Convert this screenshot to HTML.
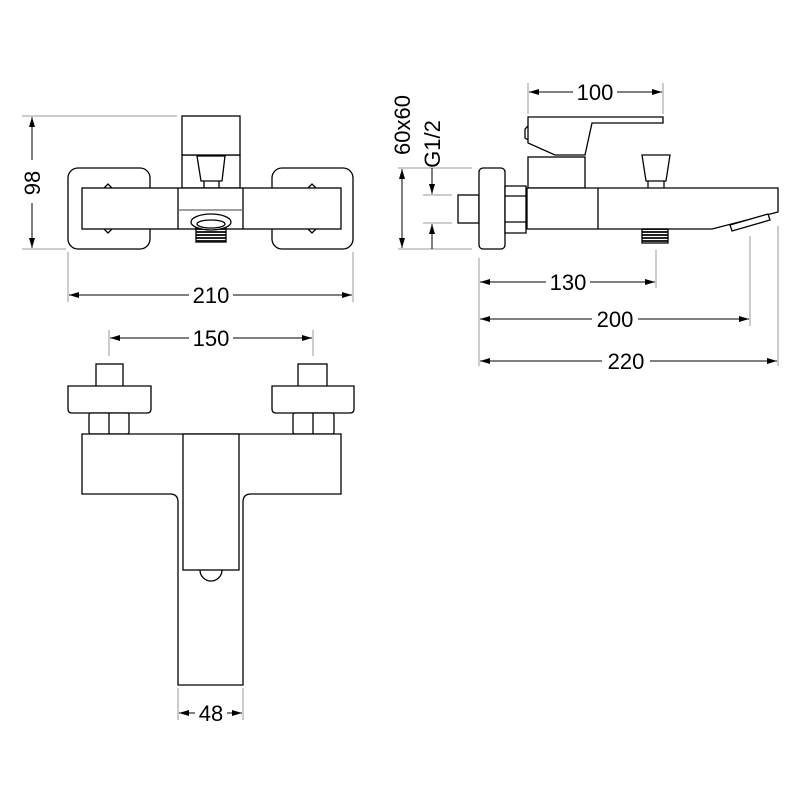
<!DOCTYPE html>
<html><head><style>html,body{margin:0;padding:0;background:#fff}svg{display:block}</style></head>
<body>
<svg width="800" height="800" viewBox="0 0 800 800" xmlns="http://www.w3.org/2000/svg">
<defs>
<marker id="a" viewBox="0 0 10 6" refX="10" refY="3" markerWidth="10" markerHeight="6" orient="auto-start-reverse" markerUnits="userSpaceOnUse"><path d="M0,0L10,3L0,6z" fill="#000"/></marker>
<pattern id="t" width="4" height="3" patternUnits="userSpaceOnUse"><rect width="4" height="3" fill="#fff"/><rect width="4" height="2" fill="#222"/></pattern>
</defs>
<g font-family="Liberation Sans, sans-serif" font-size="22" fill="#000">
<g stroke="#999" stroke-width="1" fill="none">
<line x1="22" y1="116" x2="177" y2="116"/><line x1="22" y1="249" x2="66" y2="249"/>
<line x1="68" y1="252" x2="68" y2="302"/><line x1="353" y1="252" x2="353" y2="302"/>
<line x1="528" y1="83" x2="528" y2="114"/><line x1="663" y1="83" x2="663" y2="114"/>
<line x1="398" y1="168" x2="472" y2="168"/><line x1="398" y1="249" x2="472" y2="249"/>
<line x1="423" y1="195" x2="452" y2="195"/><line x1="423" y1="223" x2="452" y2="223"/>
<line x1="479" y1="258" x2="479" y2="366"/><line x1="656" y1="250" x2="656" y2="288"/>
<line x1="750" y1="236" x2="750" y2="326"/><line x1="778" y1="226" x2="778" y2="366"/>
<line x1="109" y1="330" x2="109" y2="356"/><line x1="313" y1="330" x2="313" y2="356"/>
<line x1="178" y1="688" x2="178" y2="720"/><line x1="243" y1="688" x2="243" y2="720"/>
</g>
<g stroke="#000" stroke-width="1" fill="none">
<line x1="32" y1="117" x2="32" y2="160" marker-start="url(#a)"/><line x1="32" y1="203" x2="32" y2="248" marker-end="url(#a)"/>
<line x1="69" y1="295" x2="189" y2="295" marker-start="url(#a)"/><line x1="233" y1="295" x2="352" y2="295" marker-end="url(#a)"/>
<line x1="529" y1="92" x2="573" y2="92" marker-start="url(#a)"/><line x1="617" y1="92" x2="662" y2="92" marker-end="url(#a)"/>
<line x1="402" y1="169" x2="402" y2="248" marker-start="url(#a)" marker-end="url(#a)"/>
<line x1="432" y1="168" x2="432" y2="194" marker-end="url(#a)"/><line x1="432" y1="249" x2="432" y2="224" marker-end="url(#a)"/>
<line x1="480" y1="282" x2="546" y2="282" marker-start="url(#a)"/><line x1="590" y1="282" x2="655" y2="282" marker-end="url(#a)"/>
<line x1="480" y1="319" x2="592" y2="319" marker-start="url(#a)"/><line x1="638" y1="319" x2="749" y2="319" marker-end="url(#a)"/>
<line x1="480" y1="361" x2="602" y2="361" marker-start="url(#a)"/><line x1="650" y1="361" x2="777" y2="361" marker-end="url(#a)"/>
<line x1="110" y1="338" x2="189" y2="338" marker-start="url(#a)"/><line x1="233" y1="338" x2="312" y2="338" marker-end="url(#a)"/>
<line x1="179" y1="713" x2="195" y2="713" marker-start="url(#a)"/><line x1="227" y1="713" x2="242" y2="713" marker-end="url(#a)"/>
</g>
<text x="211" y="303" text-anchor="middle">210</text>
<text x="595" y="100" text-anchor="middle">100</text>
<text x="568" y="290" text-anchor="middle">130</text>
<text x="615" y="327" text-anchor="middle">200</text>
<text x="626" y="369" text-anchor="middle">220</text>
<text x="211" y="346" text-anchor="middle">150</text>
<text x="211" y="721" text-anchor="middle">48</text>
<text transform="translate(40,183) rotate(-90)" text-anchor="middle">98</text>
<text transform="translate(410,125) rotate(-90)" text-anchor="middle">60x60</text>
<text transform="translate(440,144) rotate(-90)" text-anchor="middle">G1/2</text>

<g stroke="#000" stroke-width="1.3" fill="#fff">
<rect x="68" y="168" width="82" height="81" rx="10"/>
<rect x="272" y="168" width="81" height="81" rx="10"/>
<rect x="182" y="155" width="58" height="33"/>
<rect x="182" y="116" width="58" height="39"/>
<path d="M197,156 L225,156 L222,181 L201,181 Z"/>
<line x1="204" y1="181" x2="204" y2="188"/><line x1="219" y1="181" x2="219" y2="188"/>
<rect x="82" y="188" width="259" height="41"/>
<line x1="178" y1="188" x2="178" y2="229"/><line x1="243" y1="188" x2="243" y2="229"/>
<line x1="178" y1="210" x2="243" y2="210" stroke="#666"/>
<rect x="196" y="228" width="30" height="14" fill="url(#t)"/>
<ellipse cx="211" cy="222" rx="20" ry="8"/>
<ellipse cx="211" cy="224" rx="14" ry="4"/>
<path d="M104,188 L108,184 L112,188 M104,229 L108,233 L112,229 M308,188 L312,184 L316,188 M308,229 L312,233 L316,229" fill="none"/>
</g>

<g stroke="#000" stroke-width="1.3" fill="#fff">
<rect x="458" y="195" width="21" height="28"/>
<rect x="479" y="168" width="26" height="81" rx="4"/>
<path d="M505,186 L526,186 L526,233 L505,233 Z"/>
<line x1="505" y1="196" x2="526" y2="196"/><line x1="505" y1="222" x2="526" y2="222"/>
<rect x="528" y="157" width="57" height="31"/>
<path d="M528,117 L663,117 L663,123 L592,123 L585,155 L555,155 L528,143 Z"/>
<path d="M528,126 L525,129 L525,138 L528,140" fill="none"/>
<path d="M527,188 L778,188 L778,212 L712,229 L527,229 Z"/>
<line x1="598" y1="188" x2="598" y2="229"/>
<path d="M642,155 L670,155 L666,181 L646,181 Z"/>
<line x1="648" y1="181" x2="648" y2="188"/><line x1="664" y1="181" x2="664" y2="188"/>
<rect x="642" y="229" width="26" height="14" fill="url(#t)"/>
<path d="M730,225 L768,214 L770,220 L732,231 Z"/>
</g>

<g stroke="#000" stroke-width="1.3" fill="#fff">
<rect x="96" y="364" width="27" height="24"/>
<rect x="298" y="364" width="29" height="24"/>
<path d="M68,386 L151,386 L151,409 Q151,413 147,413 L72,413 Q68,413 68,409 Z"/>
<path d="M272,386 L354,386 L354,409 Q354,413 350,413 L276,413 Q272,413 272,409 Z"/>
<rect x="89" y="413" width="40" height="21" rx="2"/><line x1="109" y1="413" x2="109" y2="434"/>
<rect x="293" y="413" width="41" height="21" rx="2"/><line x1="313" y1="413" x2="313" y2="434"/>
<path d="M82,434 L341,434 L341,494 L251,494 Q243,494 243,502 L243,685 L178,685 L178,502 Q178,494 170,494 L82,494 Z"/>
<path d="M200,570 A11,11 0 0 0 222,570"/>
<rect x="183" y="434" width="56" height="136"/>
</g>
</g>
</svg>
</body></html>
